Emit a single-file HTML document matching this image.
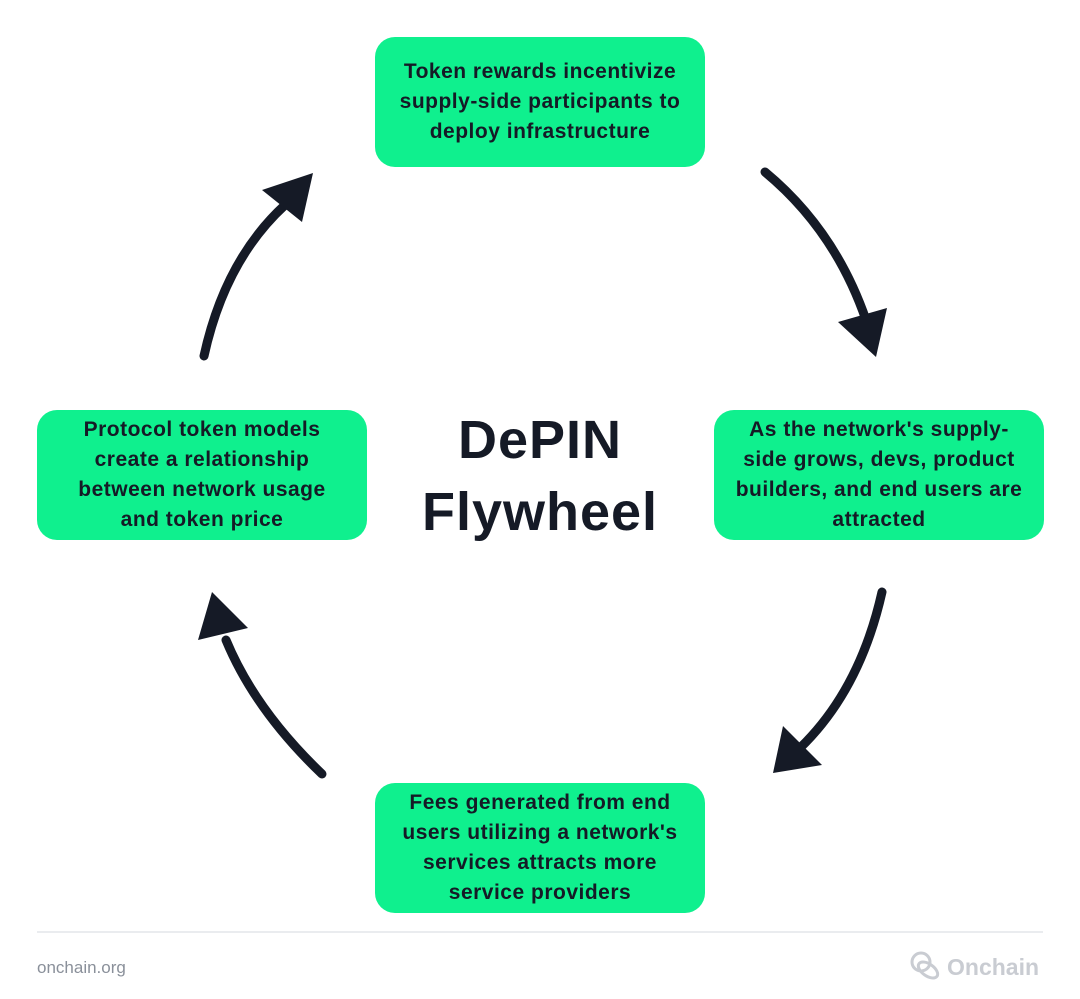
<!DOCTYPE html>
<html><head><meta charset="utf-8"><style>
body{margin:0;width:1080px;height:999px;background:#fff;position:relative;overflow:hidden;font-family:"Liberation Sans",sans-serif}
.b{position:absolute;width:330px;height:130px;background:#0ff08e;border-radius:20px;display:flex;align-items:center;justify-content:center;text-align:center;font-weight:bold;font-size:21px;letter-spacing:0.5px;line-height:30px;color:#151a26;box-sizing:border-box;padding:0 4px;white-space:nowrap}
.t{position:absolute;left:290px;width:500px;top:404px;text-align:center;font-weight:bold;font-size:54px;letter-spacing:1px;line-height:72px;color:#151a26}
</style></head><body>
<div class="b" style="left:375px;top:37px"><div>Token rewards incentivize<br>supply-side participants to<br>deploy infrastructure</div></div>
<div class="b" style="left:37px;top:410px"><div>Protocol token models<br>create a relationship<br>between network usage<br>and token price</div></div>
<div class="b" style="left:714px;top:410px"><div>As the network's supply-<br>side grows, devs, product<br>builders, and end users are<br>attracted</div></div>
<div class="b" style="left:375px;top:783px"><div>Fees generated from end<br>users utilizing a network's<br>services attracts more<br>service providers</div></div>
<div class="t">DePIN<br>Flywheel</div>
<svg width="1080" height="999" style="position:absolute;left:0;top:0">
<g fill="none" stroke="#151a26" stroke-width="9" stroke-linecap="round">
<path d="M765 172 Q835 230 866 320"/>
<path d="M882 592 Q860 690 800 748"/>
<path d="M322 774 Q255 710 226 640"/>
<path d="M204 356 Q225 260 285 205"/>
</g>
<g fill="#151a26">
<polygon points="838,322 887,308 876,357"/>
<polygon points="822,765 783,726 773,773"/>
<polygon points="198,640 248,628 212,592"/>
<polygon points="262,190 302,222 313,173"/>
</g>
<line x1="37" y1="932" x2="1043" y2="932" stroke="#e3e6ea" stroke-width="1.5"/>
<g fill="none" stroke="#c9ccd2" stroke-width="3">
<circle cx="921" cy="962" r="9"/>
<ellipse cx="928" cy="970" rx="11" ry="6" transform="rotate(35 928 970)"/>
</g>
<text x="947" y="975" font-family="Liberation Sans" font-weight="bold" font-size="23" fill="#c9ccd2">Onchain</text>
<text x="37" y="973" font-family="Liberation Sans" font-size="17" fill="#8a909a">onchain.org</text>
</svg>
</body></html>
